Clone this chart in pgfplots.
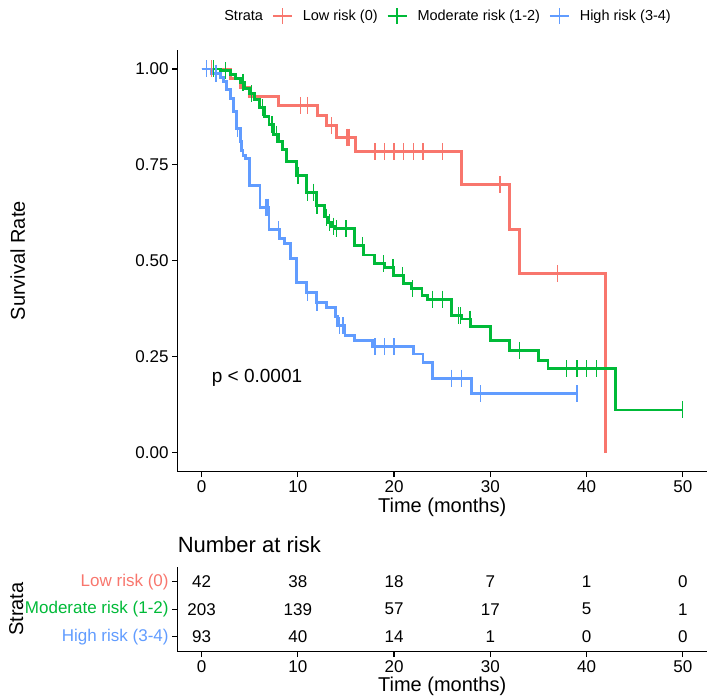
\documentclass[border=0pt]{standalone}
\usepackage{fontspec}
\setmainfont{Liberation Sans}
\usepackage{pgfplots}
\pgfplotsset{compat=1.18}

\definecolor{lowc}{HTML}{F8766D}
\definecolor{modc}{HTML}{00BA38}
\definecolor{highc}{HTML}{619CFF}
\newcommand{\fs}[1]{\fontsize{#1}{#1}\selectfont}

\pgfplotsset{
  kmaxis/.style={
    scale only axis, width=529.2pt,
    xmin=-2.5, xmax=52.5,
    axis lines=left, axis line style={-, line width=1.3pt},
    tick align=outside, major tick length=5.5pt,
    tick style={black, line width=1.2pt},
    xtick={0,10,...,50},
    ticklabel style={font=\fs{17}},
    /pgf/number format/assume math mode=true,
    label style={font=\fs{20}},
  },
  kmline/.style={const plot, line width=2.9pt, forget plot},
  kmcens/.style={only marks, mark=|, mark size=8.5pt, mark options={line width=1.3pt}, forget plot},
}

\begin{document}
\begin{tikzpicture}
\useasboundingbox (0pt,0pt) rectangle (708pt,699pt);

% survival curves
\begin{axis}[
  kmaxis,
  at={(177.6pt,227.3pt)}, anchor=south west,
  height=421.9pt,
  ymin=-0.05, ymax=1.05,
  ytick={0,0.25,0.5,0.75,1},
  yticklabels={0.00,0.25,0.50,0.75,1.00},
  xlabel={Time (months)}, ylabel={Survival Rate},
  xlabel style={at={(axis description cs:0.5,-0.0837)}, anchor=center},
  ylabel style={at={(axis description cs:-0.302,0.5)}, anchor=center},
  legend columns=-1,
  legend style={at={(axis description cs:0.069,1.080)}, anchor=west,
    draw=none, fill=none, inner sep=0pt, font=\fs{14.5},
    nodes={inner sep=0pt},
    /tikz/every odd column/.append style={column sep=10pt},
    /tikz/every even column/.append style={column sep=9pt}},
  legend image code/.code={
    \draw[#1, line width=1.8pt] (0pt,0pt) -- (19pt,0pt);
    \draw[#1, line width=1.8pt] (9.5pt,-8pt) -- (9.5pt,8pt);},
]
\addlegendimage{empty legend}
\addlegendentry{Strata}
\addlegendimage{lowc}
\addlegendentry{Low risk (0)}
\addlegendimage{modc}
\addlegendentry{Moderate risk (1-2)}
\addlegendimage{highc}
\addlegendentry{High risk (3-4)}

% Low risk (0)
\addplot[kmline, lowc] coordinates {
  (0,1) (3,0.976) (4,0.952) (5,0.929) (8,0.905) (12,0.879) (13,0.852)
  (14,0.822) (16,0.784) (27,0.699) (32,0.582) (33,0.466) (42,0.0)
};
\addplot[kmcens, lowc] coordinates {
  (1,1) (10.3,0.905) (11,0.905) (13.5,0.852) (15.1,0.822) (15.3,0.822)
  (18,0.784) (19,0.784) (20,0.784) (21,0.784) (22,0.784) (23,0.784) (25,0.784)
  (31,0.699) (37,0.466)
};

% Moderate risk (1-2)
\addplot[kmline, modc] coordinates {
  (0,1) (2,0.995) (3,0.985) (3.5,0.975) (4,0.965) (4.5,0.95) (5,0.935)
  (5.5,0.92) (6,0.9) (6.5,0.875) (7,0.855) (7.5,0.83) (8,0.81) (8.4,0.79)
  (8.8,0.758) (9.9,0.723) (10.9,0.679) (11.95,0.644) (12.8,0.614) (13.2,0.60)
  (13.5,0.59) (13.9,0.584) (15.9,0.54) (16.8,0.515) (18.0,0.492) (19.0,0.483)
  (19.9,0.462) (21.0,0.44) (21.8,0.427) (22.9,0.41) (23.5,0.40) (26.0,0.357)
  (27.0,0.348) (27.9,0.329) (30.0,0.291) (32.0,0.266) (35.0,0.240)
  (36.0,0.218) (43.0,0.111) (50.0,0.111)
};
\addplot[kmcens, modc] coordinates {
  (1.2,1) (2.5,0.995) (4.3,0.965) (5.2,0.935) (6.3,0.9) (7.3,0.855) (7.8,0.83)
  (10.0,0.723) (11.0,0.679) (11.6,0.679) (12.0,0.644) (13.0,0.614) (13.3,0.60)
  (13.7,0.59) (14.0,0.584) (15.0,0.584) (16.7,0.54) (18.9,0.492) (19.9,0.483)
  (20.9,0.462) (21.9,0.427) (24.0,0.40) (25.0,0.40) (26.7,0.357) (26.9,0.357)
  (27.9,0.348) (33.0,0.266) (37.9,0.218) (39.0,0.218) (40.0,0.218)
  (41.0,0.218) (50.0,0.111)
};

% High risk (3-4)
\addplot[kmline, highc] coordinates {
  (0,1) (1,0.989) (2,0.978) (2.3,0.967) (2.6,0.946) (3,0.924) (3.3,0.89)
  (3.6,0.845) (4,0.81) (4.1,0.788) (4.3,0.775) (4.6,0.766) (5.0,0.697)
  (6.06,0.640) (7.0,0.581) (8.07,0.557) (8.65,0.544) (9.2,0.505) (9.9,0.444)
  (10.9,0.418) (11.95,0.392) (13.0,0.379) (13.9,0.355) (14.1,0.331)
  (14.9,0.305) (15.9,0.292) (17.8,0.276) (22.0,0.257) (23.0,0.235)
  (24.0,0.194) (28.0,0.153) (39.0,0.153)
};
\addplot[kmcens, highc] coordinates {
  (0.5,1) (1.5,0.989) (3.7,0.845) (6.7,0.640) (6.9,0.640) (8.0,0.581)
  (11.0,0.418) (12.0,0.392) (14.3,0.331) (14.7,0.331) (18.0,0.276)
  (19.0,0.276) (20.0,0.276) (26.0,0.194) (27.0,0.194) (29.0,0.153) (39.0,0.153)
};

\node[anchor=west, inner sep=0pt, font=\fs{19}] at (axis cs:1.04,0.196) {p < 0.0001};
\end{axis}

% number at risk table
\begin{axis}[
  kmaxis,
  at={(177.6pt,47.3pt)}, anchor=south west,
  height=85.1pt, clip=false,
  ymin=0.4545, ymax=3.55,
  ytick={1,2,3},
  yticklabels={\textcolor{highc}{High risk (3-4)},
               \textcolor{modc}{Moderate risk (1-2)},
               \textcolor{lowc}{Low risk (0)}},
  xlabel={Time (months)}, ylabel={Strata},
  xlabel style={at={(axis description cs:0.5,-0.403)}, anchor=center},
  ylabel style={at={(axis description cs:-0.305,0.5)}, anchor=center},
]
\addplot[draw=none, nodes near coords, point meta=explicit symbolic,
  every node near coord/.style={anchor=center, font=\fs{17}}] coordinates {
  (0,3)[42] (10,3)[38] (20,3)[18] (30,3)[7] (40,3)[1] (50,3)[0]
  (0,2)[203] (10,2)[139] (20,2)[57] (30,2)[17] (40,2)[5] (50,2)[1]
  (0,1)[93] (10,1)[40] (20,1)[14] (30,1)[1] (40,1)[0] (50,1)[0]
};
\node[anchor=west, inner sep=0pt, font=\fs{22}] at (rel axis cs:0,1.255) {Number at risk};
\end{axis}
\end{tikzpicture}
\end{document}
